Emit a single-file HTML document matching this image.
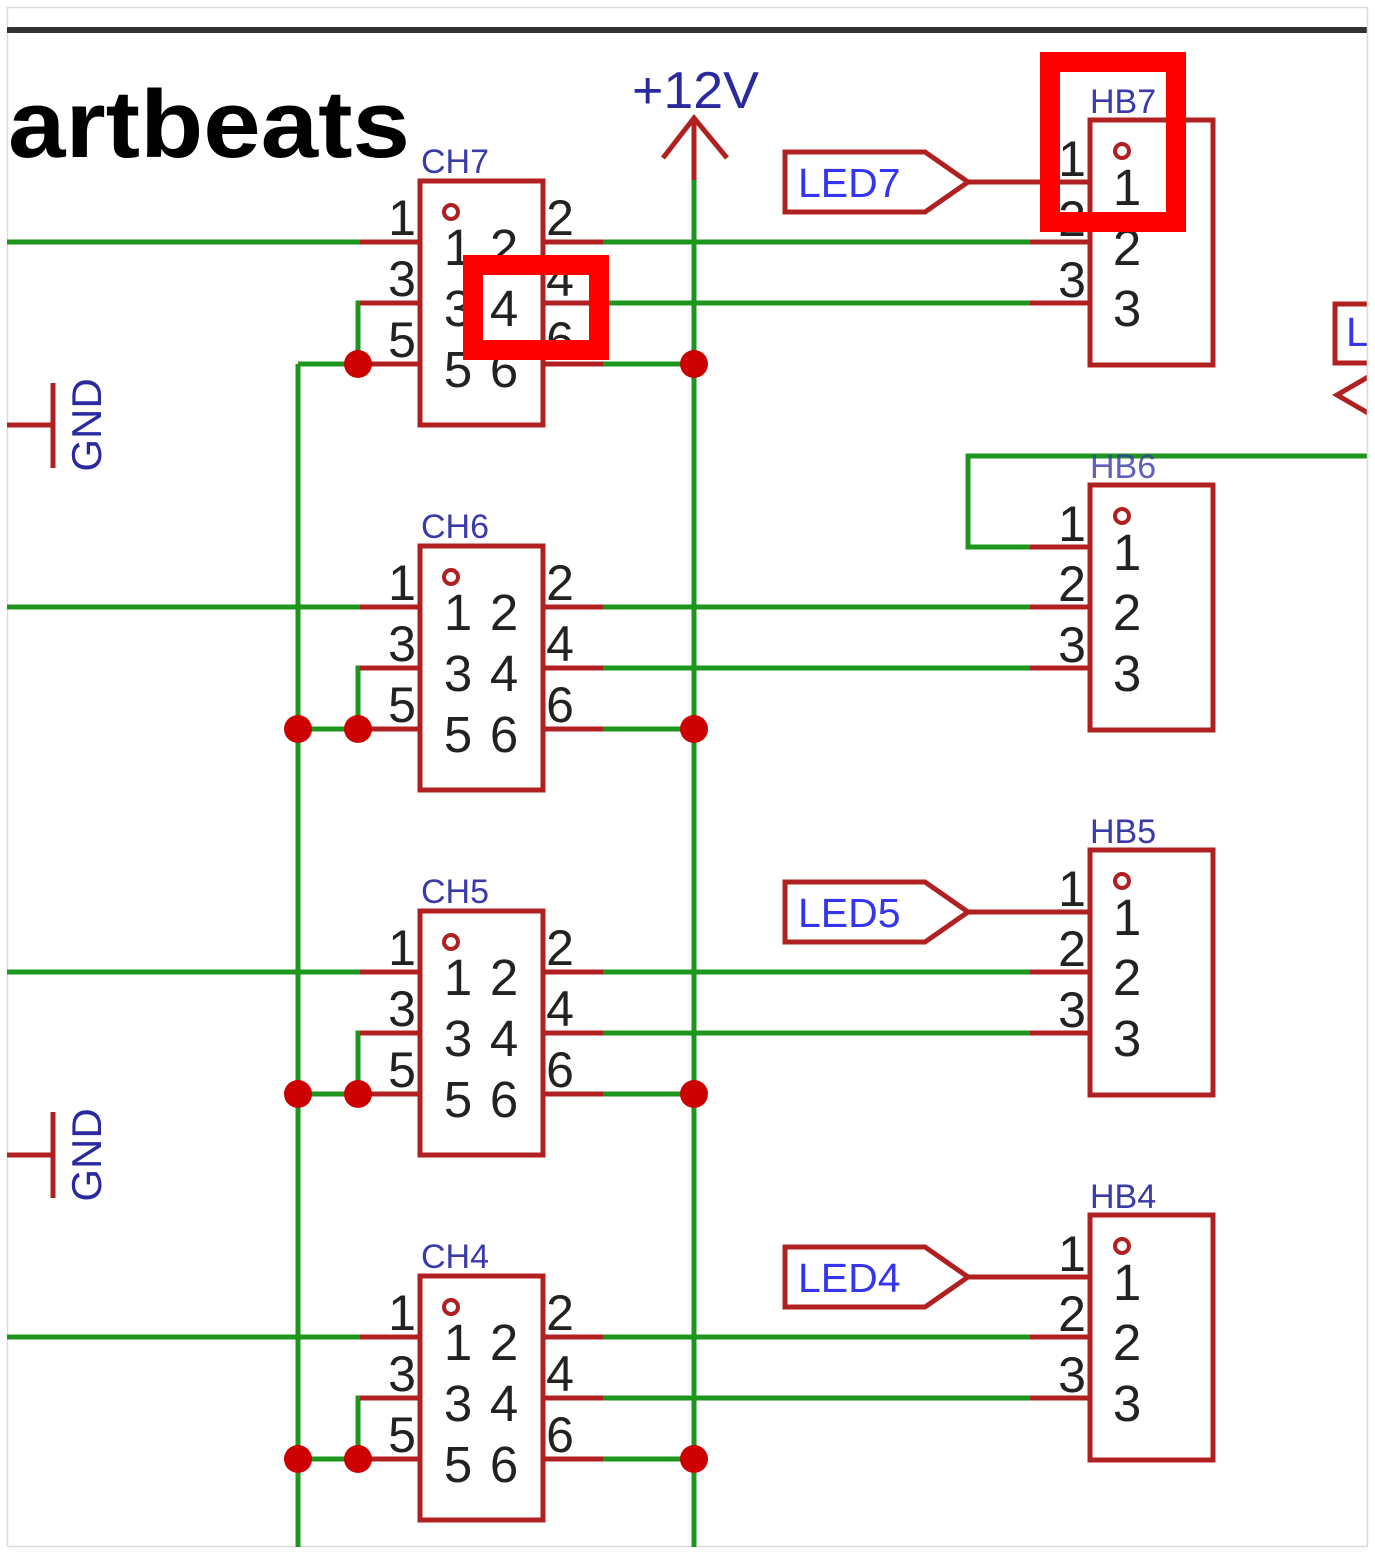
<!DOCTYPE html>
<html><head><meta charset="utf-8"><style>
html,body{margin:0;padding:0;background:#fff;}
svg{display:block;}
.r{stroke:#b02020;stroke-width:5;fill:none;}
.g{stroke:#1c961c;stroke-width:5;fill:none;}
.n{font-family:"Liberation Sans",sans-serif;fill:#222;text-anchor:middle;}
.o{font-size:50px;}
.i{font-size:51px;}
.lb{font-family:"Liberation Sans",sans-serif;fill:#3a3aaa;font-size:34px;}
.led{font-family:"Liberation Sans",sans-serif;fill:#3535ee;font-size:41px;}
.d{fill:#cc0000;}
</style></head><body>
<svg width="1375" height="1554" viewBox="0 0 1375 1554" xmlns="http://www.w3.org/2000/svg">
<rect x="7.5" y="7.5" width="1360" height="1539" fill="#fff" stroke="#e2d8dc" stroke-width="1.5"/>
<line x1="7" y1="30" x2="1368" y2="30" stroke="#333" stroke-width="6"/>
<text x="8" y="157" font-family="Liberation Sans,sans-serif" font-weight="bold" font-size="96" fill="#000" textLength="402" lengthAdjust="spacingAndGlyphs">artbeats</text>

<!-- +12V -->
<text x="632" y="108" font-family="Liberation Sans,sans-serif" font-size="52" fill="#2a2aa0" textLength="127" lengthAdjust="spacingAndGlyphs">+12V</text>
<polyline class="r" points="663,158 694,118 727,158"/>
<line class="r" x1="694" y1="118" x2="694" y2="180"/>
<line class="g" x1="694" y1="180" x2="694" y2="1547"/>
<!-- left bus -->
<line class="g" x1="298" y1="364" x2="298" y2="1547"/>
<polyline class="g" points="298,364 358,364"/>

<!-- GND -->
<line class="r" x1="7" y1="425" x2="53" y2="425"/>
<line class="r" x1="53" y1="383" x2="53" y2="468"/>
<text transform="translate(101,425) rotate(-90)" font-family="Liberation Sans,sans-serif" font-size="42" fill="#2a2aa0" text-anchor="middle">GND</text>
<line class="r" x1="7" y1="1155" x2="53" y2="1155"/>
<line class="r" x1="53" y1="1112" x2="53" y2="1198"/>
<text transform="translate(101,1155) rotate(-90)" font-family="Liberation Sans,sans-serif" font-size="42" fill="#2a2aa0" text-anchor="middle">GND</text>

<!-- CH blocks -->
<g id="ch7">
<line class="g" x1="7" y1="242" x2="360" y2="242"/>
<polyline class="g" points="360,303 358,303 358,364 360,364"/>
<line class="g" x1="603" y1="242" x2="1030" y2="242"/>
<line class="g" x1="603" y1="303" x2="1030" y2="303"/>
<line class="g" x1="603" y1="364" x2="694" y2="364"/>
<line class="r" x1="360" y1="242" x2="420" y2="242"/><line class="r" x1="360" y1="303" x2="420" y2="303"/><line class="r" x1="360" y1="364" x2="420" y2="364"/>
<line class="r" x1="543" y1="242" x2="603" y2="242"/><line class="r" x1="543" y1="303" x2="603" y2="303"/><line class="r" x1="543" y1="364" x2="603" y2="364"/>
<rect class="r" x="420" y="181" width="123" height="244"/>
<circle cx="451" cy="212" r="7" fill="none" stroke="#b02020" stroke-width="4"/>
<circle class="d" cx="358" cy="364" r="14"/><circle class="d" cx="694" cy="364" r="14"/>
<text class="lb" x="421" y="173">CH7</text>
<text class="n o" x="402" y="235">1</text><text class="n o" x="402" y="296">3</text><text class="n o" x="402" y="357">5</text>
<text class="n o" x="560" y="235">2</text><text class="n o" x="560" y="296">4</text><text class="n o" x="560" y="357">6</text>
<text class="n i" x="458" y="265">1</text><text class="n i" x="504" y="265">2</text>
<text class="n i" x="458" y="326">3</text><text class="n i" x="504" y="326">4</text>
<text class="n i" x="458" y="387">5</text><text class="n i" x="504" y="387">6</text>
</g>
<g transform="translate(0,365)">
<line class="g" x1="7" y1="242" x2="360" y2="242"/>
<polyline class="g" points="360,303 358,303 358,364 360,364"/>
<line class="g" x1="298" y1="364" x2="358" y2="364"/>
<line class="g" x1="603" y1="242" x2="1030" y2="242"/>
<line class="g" x1="603" y1="303" x2="1030" y2="303"/>
<line class="g" x1="603" y1="364" x2="694" y2="364"/>
<line class="r" x1="360" y1="242" x2="420" y2="242"/><line class="r" x1="360" y1="303" x2="420" y2="303"/><line class="r" x1="360" y1="364" x2="420" y2="364"/>
<line class="r" x1="543" y1="242" x2="603" y2="242"/><line class="r" x1="543" y1="303" x2="603" y2="303"/><line class="r" x1="543" y1="364" x2="603" y2="364"/>
<rect class="r" x="420" y="181" width="123" height="244"/>
<circle cx="451" cy="212" r="7" fill="none" stroke="#b02020" stroke-width="4"/>
<circle class="d" cx="298" cy="364" r="14"/><circle class="d" cx="358" cy="364" r="14"/><circle class="d" cx="694" cy="364" r="14"/>
<text class="lb" x="421" y="173">CH6</text>
<text class="n o" x="402" y="235">1</text><text class="n o" x="402" y="296">3</text><text class="n o" x="402" y="357">5</text>
<text class="n o" x="560" y="235">2</text><text class="n o" x="560" y="296">4</text><text class="n o" x="560" y="357">6</text>
<text class="n i" x="458" y="265">1</text><text class="n i" x="504" y="265">2</text>
<text class="n i" x="458" y="326">3</text><text class="n i" x="504" y="326">4</text>
<text class="n i" x="458" y="387">5</text><text class="n i" x="504" y="387">6</text>
</g>
<g transform="translate(0,730)">
<line class="g" x1="7" y1="242" x2="360" y2="242"/>
<polyline class="g" points="360,303 358,303 358,364 360,364"/>
<line class="g" x1="298" y1="364" x2="358" y2="364"/>
<line class="g" x1="603" y1="242" x2="1030" y2="242"/>
<line class="g" x1="603" y1="303" x2="1030" y2="303"/>
<line class="g" x1="603" y1="364" x2="694" y2="364"/>
<line class="r" x1="360" y1="242" x2="420" y2="242"/><line class="r" x1="360" y1="303" x2="420" y2="303"/><line class="r" x1="360" y1="364" x2="420" y2="364"/>
<line class="r" x1="543" y1="242" x2="603" y2="242"/><line class="r" x1="543" y1="303" x2="603" y2="303"/><line class="r" x1="543" y1="364" x2="603" y2="364"/>
<rect class="r" x="420" y="181" width="123" height="244"/>
<circle cx="451" cy="212" r="7" fill="none" stroke="#b02020" stroke-width="4"/>
<circle class="d" cx="298" cy="364" r="14"/><circle class="d" cx="358" cy="364" r="14"/><circle class="d" cx="694" cy="364" r="14"/>
<text class="lb" x="421" y="173">CH5</text>
<text class="n o" x="402" y="235">1</text><text class="n o" x="402" y="296">3</text><text class="n o" x="402" y="357">5</text>
<text class="n o" x="560" y="235">2</text><text class="n o" x="560" y="296">4</text><text class="n o" x="560" y="357">6</text>
<text class="n i" x="458" y="265">1</text><text class="n i" x="504" y="265">2</text>
<text class="n i" x="458" y="326">3</text><text class="n i" x="504" y="326">4</text>
<text class="n i" x="458" y="387">5</text><text class="n i" x="504" y="387">6</text>
</g>
<g transform="translate(0,1095)">
<line class="g" x1="7" y1="242" x2="360" y2="242"/>
<polyline class="g" points="360,303 358,303 358,364 360,364"/>
<line class="g" x1="298" y1="364" x2="358" y2="364"/>
<line class="g" x1="603" y1="242" x2="1030" y2="242"/>
<line class="g" x1="603" y1="303" x2="1030" y2="303"/>
<line class="g" x1="603" y1="364" x2="694" y2="364"/>
<line class="r" x1="360" y1="242" x2="420" y2="242"/><line class="r" x1="360" y1="303" x2="420" y2="303"/><line class="r" x1="360" y1="364" x2="420" y2="364"/>
<line class="r" x1="543" y1="242" x2="603" y2="242"/><line class="r" x1="543" y1="303" x2="603" y2="303"/><line class="r" x1="543" y1="364" x2="603" y2="364"/>
<rect class="r" x="420" y="181" width="123" height="244"/>
<circle cx="451" cy="212" r="7" fill="none" stroke="#b02020" stroke-width="4"/>
<circle class="d" cx="298" cy="364" r="14"/><circle class="d" cx="358" cy="364" r="14"/><circle class="d" cx="694" cy="364" r="14"/>
<text class="lb" x="421" y="173">CH4</text>
<text class="n o" x="402" y="235">1</text><text class="n o" x="402" y="296">3</text><text class="n o" x="402" y="357">5</text>
<text class="n o" x="560" y="235">2</text><text class="n o" x="560" y="296">4</text><text class="n o" x="560" y="357">6</text>
<text class="n i" x="458" y="265">1</text><text class="n i" x="504" y="265">2</text>
<text class="n i" x="458" y="326">3</text><text class="n i" x="504" y="326">4</text>
<text class="n i" x="458" y="387">5</text><text class="n i" x="504" y="387">6</text>
</g>

<!-- HB blocks -->
<g>
<polygon class="r" points="785,152 925,152 968,182 925,212 785,212"/>
<text class="led" x="798" y="197">LED7</text>
<line class="r" x1="968" y1="182" x2="1090" y2="182"/>
<line class="r" x1="1030" y1="242" x2="1090" y2="242"/><line class="r" x1="1030" y1="303" x2="1090" y2="303"/>
<rect class="r" x="1090" y="120" width="123" height="245"/>
<circle cx="1122" cy="151" r="7" fill="none" stroke="#b02020" stroke-width="4"/>
<text class="lb" x="1090" y="113">HB7</text>
<text class="n o" x="1072" y="176">1</text><text class="n o" x="1072" y="236">2</text><text class="n o" x="1072" y="297">3</text>
<text class="n i" x="1127" y="205">1</text><text class="n i" x="1127" y="265">2</text><text class="n i" x="1127" y="326">3</text>
</g>
<g transform="translate(0,365)">
<polyline class="g" points="1030,182 968,182 968,91 1368,91"/>
<line class="r" x1="1030" y1="182" x2="1090" y2="182"/>
<line class="r" x1="1030" y1="242" x2="1090" y2="242"/><line class="r" x1="1030" y1="303" x2="1090" y2="303"/>
<rect class="r" x="1090" y="120" width="123" height="245"/>
<circle cx="1122" cy="151" r="7" fill="none" stroke="#b02020" stroke-width="4"/>
<text class="lb" x="1090" y="113" fill-opacity="0.8">HB6</text>
<text class="n o" x="1072" y="176">1</text><text class="n o" x="1072" y="236">2</text><text class="n o" x="1072" y="297">3</text>
<text class="n i" x="1127" y="205">1</text><text class="n i" x="1127" y="265">2</text><text class="n i" x="1127" y="326">3</text>
</g>
<g transform="translate(0,730)">
<polygon class="r" points="785,152 925,152 968,182 925,212 785,212"/>
<text class="led" x="798" y="197">LED5</text>
<line class="r" x1="968" y1="182" x2="1090" y2="182"/>
<line class="r" x1="1030" y1="242" x2="1090" y2="242"/><line class="r" x1="1030" y1="303" x2="1090" y2="303"/>
<rect class="r" x="1090" y="120" width="123" height="245"/>
<circle cx="1122" cy="151" r="7" fill="none" stroke="#b02020" stroke-width="4"/>
<text class="lb" x="1090" y="113">HB5</text>
<text class="n o" x="1072" y="176">1</text><text class="n o" x="1072" y="236">2</text><text class="n o" x="1072" y="297">3</text>
<text class="n i" x="1127" y="205">1</text><text class="n i" x="1127" y="265">2</text><text class="n i" x="1127" y="326">3</text>
</g>
<g transform="translate(0,1095)">
<polygon class="r" points="785,152 925,152 968,182 925,212 785,212"/>
<text class="led" x="798" y="197">LED4</text>
<line class="r" x1="968" y1="182" x2="1090" y2="182"/>
<line class="r" x1="1030" y1="242" x2="1090" y2="242"/><line class="r" x1="1030" y1="303" x2="1090" y2="303"/>
<rect class="r" x="1090" y="120" width="123" height="245"/>
<circle cx="1122" cy="151" r="7" fill="none" stroke="#b02020" stroke-width="4"/>
<text class="lb" x="1090" y="113">HB4</text>
<text class="n o" x="1072" y="176">1</text><text class="n o" x="1072" y="236">2</text><text class="n o" x="1072" y="297">3</text>
<text class="n i" x="1127" y="205">1</text><text class="n i" x="1127" y="265">2</text><text class="n i" x="1127" y="326">3</text>
</g>

<!-- right edge partial tag -->
<polyline class="r" points="1368,304 1335,304 1335,363 1368,363"/>
<text class="led" x="1346" y="346">L</text>
<polyline class="r" points="1368,377 1337,395 1368,413"/>
<rect x="1368" y="0" width="7" height="1554" fill="#fff"/>
<line x1="1367.5" y1="7" x2="1367.5" y2="1547" stroke="#e2d8dc" stroke-width="1.5"/>

<!-- highlight boxes -->
<rect x="1050" y="62" width="126" height="160" fill="none" stroke="#ff0000" stroke-width="20"/>
<rect x="473" y="265" width="126" height="85" fill="none" stroke="#ff0000" stroke-width="20"/>
</svg>
</body></html>
